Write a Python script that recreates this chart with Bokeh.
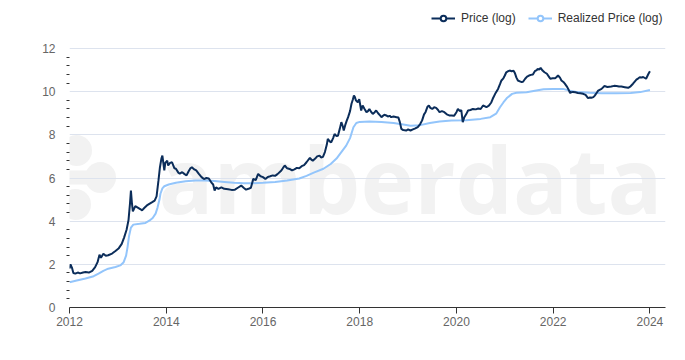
from bokeh.plotting import figure
from bokeh.models import (ColumnDataSource, Legend, LegendItem, FixedTicker, Range1d)
from bokeh.core.properties import value
from bokeh.embed import file_html
from bokeh.resources import INLINE

# ---------------- data (decimal year, natural log of USD price) ----------------
price_t = [2012.00, 2012.02, 2012.05, 2012.08, 2012.12, 2012.17, 2012.22, 2012.28, 2012.33, 2012.40,
           2012.47, 2012.53, 2012.58, 2012.62, 2012.65, 2012.70, 2012.75, 2012.80, 2012.88, 2012.95,
           2013.02, 2013.08, 2013.13, 2013.18, 2013.22, 2013.25, 2013.27, 2013.29, 2013.31, 2013.36,
           2013.42, 2013.47, 2013.50, 2013.55, 2013.60, 2013.65, 2013.71, 2013.76, 2013.80, 2013.84,
           2013.87, 2013.90, 2013.92, 2013.94, 2013.96, 2013.98, 2014.02, 2014.04, 2014.08, 2014.12,
           2014.17, 2014.20, 2014.25, 2014.28, 2014.33, 2014.38, 2014.42, 2014.46, 2014.50, 2014.53,
           2014.58, 2014.62, 2014.67, 2014.73, 2014.78, 2014.83, 2014.88, 2014.93, 2014.97, 2015.00,
           2015.03, 2015.08, 2015.14, 2015.20, 2015.28, 2015.35, 2015.42, 2015.48, 2015.55, 2015.60,
           2015.65, 2015.70, 2015.75, 2015.80, 2015.85, 2015.90, 2015.95, 2016.00, 2016.05, 2016.10,
           2016.15, 2016.20, 2016.25, 2016.30, 2016.38, 2016.43, 2016.45, 2016.50, 2016.55, 2016.60,
           2016.65, 2016.70, 2016.75, 2016.80, 2016.85, 2016.90, 2016.97, 2017.00, 2017.03, 2017.08,
           2017.12, 2017.17, 2017.20, 2017.24, 2017.28, 2017.32, 2017.34, 2017.38, 2017.41, 2017.45,
           2017.48, 2017.52, 2017.55, 2017.59, 2017.62, 2017.65, 2017.67, 2017.70, 2017.73, 2017.76,
           2017.80, 2017.83, 2017.86, 2017.88, 2017.90, 2017.92, 2017.96, 2017.99, 2018.03, 2018.06,
           2018.10, 2018.14, 2018.17, 2018.20, 2018.24, 2018.27, 2018.31, 2018.34, 2018.38, 2018.42,
           2018.45, 2018.48, 2018.51, 2018.55, 2018.58, 2018.62, 2018.65, 2018.70, 2018.76, 2018.80,
           2018.83, 2018.86, 2018.90, 2018.96, 2019.00, 2019.05, 2019.10, 2019.15, 2019.20, 2019.25,
           2019.29, 2019.33, 2019.36, 2019.40, 2019.43, 2019.46, 2019.50, 2019.54, 2019.58, 2019.62,
           2019.65, 2019.70, 2019.75, 2019.80, 2019.85, 2019.90, 2019.95, 2020.00, 2020.03, 2020.07,
           2020.10, 2020.13, 2020.16, 2020.20, 2020.24, 2020.29, 2020.34, 2020.40, 2020.45, 2020.50,
           2020.55, 2020.59, 2020.62, 2020.67, 2020.72, 2020.75, 2020.80, 2020.86, 2020.90, 2020.93,
           2020.97, 2021.00, 2021.03, 2021.07, 2021.10, 2021.14, 2021.18, 2021.21, 2021.24, 2021.27,
           2021.31, 2021.35, 2021.38, 2021.42, 2021.46, 2021.50, 2021.54, 2021.58, 2021.62, 2021.66,
           2021.68, 2021.71, 2021.74, 2021.78, 2021.82, 2021.87, 2021.91, 2021.94, 2021.99, 2022.04,
           2022.07, 2022.10, 2022.14, 2022.17, 2022.21, 2022.24, 2022.28, 2022.31, 2022.35, 2022.38,
           2022.41, 2022.46, 2022.51, 2022.56, 2022.62, 2022.67, 2022.72, 2022.76, 2022.79, 2022.83,
           2022.86, 2022.90, 2022.93, 2023.00, 2023.06, 2023.12, 2023.20, 2023.26, 2023.31, 2023.36,
           2023.41, 2023.48, 2023.55, 2023.60, 2023.65, 2023.69, 2023.72, 2023.76, 2023.79, 2023.83,
           2023.86, 2023.92, 2023.97, 2024.00]
price_log = [1.80, 2.00, 1.85, 1.60, 1.57, 1.62, 1.58, 1.62, 1.64, 1.62,
             1.70, 1.87, 2.10, 2.45, 2.30, 2.49, 2.40, 2.42, 2.50, 2.62,
             2.75, 2.95, 3.25, 3.60, 4.05, 4.80, 5.42, 4.85, 4.45, 4.70,
             4.62, 4.55, 4.50, 4.62, 4.73, 4.80, 4.88, 4.95, 5.15, 5.90,
             6.50, 6.90, 7.04, 6.70, 6.35, 6.70, 6.80, 6.58, 6.70, 6.73,
             6.45, 6.43, 6.25, 6.20, 6.27, 6.18, 6.12, 6.30, 6.45, 6.50,
             6.40, 6.35, 6.20, 6.04, 5.95, 6.00, 5.98, 5.80, 5.70, 5.42,
             5.57, 5.50, 5.57, 5.50, 5.48, 5.45, 5.46, 5.55, 5.65, 5.55,
             5.46, 5.50, 5.55, 5.96, 5.90, 6.19, 6.08, 6.04, 5.95, 6.05,
             6.08, 6.12, 6.10, 6.18, 6.35, 6.52, 6.58, 6.45, 6.42, 6.35,
             6.40, 6.47, 6.45, 6.55, 6.60, 6.73, 6.94, 6.85, 6.80, 6.90,
             7.00, 7.04, 6.95, 6.98, 7.20, 7.55, 7.81, 7.70, 7.65, 7.85,
             8.04, 7.95, 7.96, 8.30, 8.59, 8.40, 8.20, 8.45, 8.65, 8.82,
             9.10, 9.44, 9.65, 9.82, 9.75, 9.60, 9.51, 9.65, 9.13, 9.36,
             9.20, 9.05, 9.10, 9.20, 9.05, 8.97, 9.05, 9.13, 9.00, 8.90,
             8.82, 8.88, 8.93, 8.90, 8.85, 8.88, 8.82, 8.85, 8.82, 8.80,
             8.59, 8.28, 8.22, 8.20, 8.25, 8.20, 8.25, 8.30, 8.36, 8.50,
             8.67, 8.95, 9.05, 9.30, 9.36, 9.25, 9.20, 9.28, 9.25, 9.15,
             9.05, 9.10, 9.05, 8.95, 8.90, 8.90, 8.88, 9.05, 9.20, 9.10,
             9.15, 8.59, 8.80, 8.95, 9.13, 9.15, 9.20, 9.18, 9.22, 9.20,
             9.36, 9.32, 9.28, 9.35, 9.50, 9.67, 9.90, 10.13, 10.35, 10.52,
             10.62, 10.75, 10.90, 10.95, 10.98, 10.95, 10.97, 10.85, 10.65, 10.52,
             10.48, 10.44, 10.47, 10.60, 10.70, 10.75, 10.78, 10.80, 10.95, 11.00,
             11.06, 11.02, 11.10, 10.98, 10.90, 10.83, 10.70, 10.60, 10.62, 10.62,
             10.68, 10.75, 10.65, 10.52, 10.45, 10.37, 10.25, 10.13, 9.94, 9.98,
             9.99, 9.97, 9.94, 9.93, 9.90, 9.85, 9.70, 9.73, 9.72, 9.75,
             9.82, 9.95, 10.05, 10.13, 10.26, 10.22, 10.24, 10.27, 10.26, 10.24,
             10.24, 10.21, 10.18, 10.25, 10.37, 10.48, 10.56, 10.62, 10.67, 10.66,
             10.68, 10.60, 10.83, 10.95]

realized_t = [2012.00, 2012.15, 2012.33, 2012.50, 2012.60, 2012.70, 2012.80, 2012.95, 2013.05, 2013.12,
              2013.17, 2013.20, 2013.23, 2013.27, 2013.32, 2013.45, 2013.57, 2013.65, 2013.72, 2013.78,
              2013.82, 2013.86, 2013.88, 2013.92, 2013.96, 2014.05, 2014.20, 2014.40, 2014.60, 2014.80,
              2015.00, 2015.20, 2015.40, 2015.60, 2015.80, 2016.00, 2016.25, 2016.50, 2016.75, 2016.90,
              2017.05, 2017.25, 2017.40, 2017.52, 2017.62, 2017.72, 2017.80, 2017.87, 2017.93, 2018.00,
              2018.20, 2018.45, 2018.70, 2018.90, 2019.05, 2019.25, 2019.45, 2019.65, 2019.90, 2020.20,
              2020.50, 2020.70, 2020.82, 2020.90, 2020.97, 2021.05, 2021.15, 2021.24, 2021.45, 2021.65,
              2021.80, 2022.00, 2022.20, 2022.35, 2022.50, 2022.75, 2023.00, 2023.30, 2023.60, 2023.80,
              2024.00]
realized_log = [1.17, 1.25, 1.34, 1.45, 1.57, 1.70, 1.80, 1.88, 1.95, 2.10,
                2.40, 2.80, 3.30, 3.70, 3.84, 3.88, 3.92, 4.02, 4.15, 4.35,
                4.63, 5.00, 5.27, 5.52, 5.62, 5.70, 5.78, 5.85, 5.88, 5.88,
                5.86, 5.82, 5.78, 5.76, 5.76, 5.78, 5.82, 5.88, 5.98, 6.10,
                6.25, 6.43, 6.65, 6.90, 7.20, 7.50, 7.85, 8.35, 8.55, 8.60,
                8.62, 8.60, 8.55, 8.48, 8.42, 8.45, 8.55, 8.62, 8.66, 8.68,
                8.74, 8.82, 8.98, 9.28, 9.50, 9.72, 9.90, 9.95, 9.97, 10.05,
                10.11, 10.13, 10.13, 10.05, 9.98, 9.95, 9.93, 9.93, 9.94, 9.98,
                10.08]

x_ticks = [2012, 2014, 2016, 2018, 2020, 2022, 2024]
y_ticks = [0, 2, 4, 6, 8, 10, 12]
series_names = ["Price (log)", "Realized Price (log)"]

# ---------------- style ----------------
PRICE_COLOR = "#0b2d5a"
REAL_COLOR = "#93c5fb"
WM_COLOR = "#f2f2f2"
FONT = "Liberation Sans"

# frame: page x 69..665, page y 4..307 ; y-range extends above 12 to host the legend
FRAME_L, FRAME_B, FW, FH = 69.0, 307.0, 596.0, 303.0
X0 = 2012.0
X1 = X0 + FW / 48.37
Y0, Y1 = 0.0, 14.04

p = figure(width=685, height=360, output_backend="svg", toolbar_location=None,
           x_range=Range1d(X0, X1), y_range=Range1d(Y0, Y1),
           min_border_left=69, min_border_right=20, min_border_top=4, min_border_bottom=53)
p.outline_line_color = None
p.background_fill_color = "white"
p.border_fill_color = "white"

def fx(px):
    return X0 + (px - FRAME_L) / FW * (X1 - X0)
def fy(py):
    return Y0 + (FRAME_B - py) / FH * (Y1 - Y0)

# ---- watermark (amberdata logo) ----
wm_circles = [(76, 150), (53, 177), (100, 177), (28, 204), (75, 204)]
p.scatter(x=[fx(a) for a, b in wm_circles], y=[fy(b) for a, b in wm_circles],
          size=31, marker="circle", fill_color=WM_COLOR, line_color=None, level="image")
p.rect(x=[fx(76.5), fx(51.5)], y=[fy(177), fy(204)], width=47, height=14,
       width_units="screen", height_units="screen",
       fill_color=WM_COLOR, line_color=None, level="image")
p.text(x=[fx(158)], y=[fy(178)], text=["amberdata"], text_font=value("Open Sans"),
       text_font_size="91px", text_font_style="bold", text_color=WM_COLOR,
       text_baseline="alphabetic", level="image")

# ---- series ----
src_p = ColumnDataSource(dict(t=price_t, v=price_log))
src_r = ColumnDataSource(dict(t=realized_t, v=realized_log))
r_real = p.line("t", "v", source=src_r, line_color=REAL_COLOR, line_width=2)
r_price = p.line("t", "v", source=src_p, line_color=PRICE_COLOR, line_width=2)

# legend markers (single NaN point so nothing is drawn on the plot)
nan = float("nan")
m_price = p.scatter(x=[nan], y=[nan], marker="circle", size=12, fill_color="white",
                    line_color=PRICE_COLOR, line_width=2)
m_real = p.scatter(x=[nan], y=[nan], marker="circle", size=12, fill_color="white",
                   line_color=REAL_COLOR, line_width=2)

legend = Legend(items=[LegendItem(label=series_names[0], renderers=[r_price, m_price]),
                       LegendItem(label=series_names[1], renderers=[r_real, m_real])],
                orientation="horizontal", location=(362, 282),
                border_line_color=None, background_fill_alpha=0,
                label_text_font=FONT, label_text_font_size="12px", label_text_color="#333333",
                glyph_width=24, glyph_height=14, label_height=14, spacing=12, label_standoff=6,
                padding=0, margin=0)
p.add_layout(legend, "center")

# ---- axes ----
p.xaxis.ticker = FixedTicker(ticks=x_ticks)
p.xaxis.axis_line_color = "#333333"
p.xaxis.major_tick_line_color = "#333333"
p.xaxis.major_tick_out = 6
p.xaxis.major_tick_in = 0
p.xaxis.minor_tick_line_color = None
p.xaxis.major_label_text_font = FONT
p.xaxis.major_label_text_font_size = "12px"
p.xaxis.major_label_text_color = "#666666"
p.xaxis.major_label_standoff = 3
p.xaxis.major_label_overrides = {t: str(t) for t in x_ticks}

y_minor = [round(0.4 * i, 1) for i in range(1, 30) if i % 5]
p.yaxis.ticker = FixedTicker(ticks=y_ticks, minor_ticks=y_minor)
p.yaxis.axis_line_color = None
p.yaxis.major_tick_line_color = None
p.yaxis.minor_tick_line_color = "#333333"
p.yaxis.minor_tick_out = 3
p.yaxis.minor_tick_in = 0
p.yaxis.major_label_text_font = FONT
p.yaxis.major_label_text_font_size = "12px"
p.yaxis.major_label_text_color = "#666666"
p.yaxis.major_label_standoff = 8

p.xgrid.grid_line_color = None
p.ygrid.grid_line_color = "#dde3ee"
p.ygrid.grid_line_width = 1

open("out.html", "w").write(file_html(p, INLINE))
